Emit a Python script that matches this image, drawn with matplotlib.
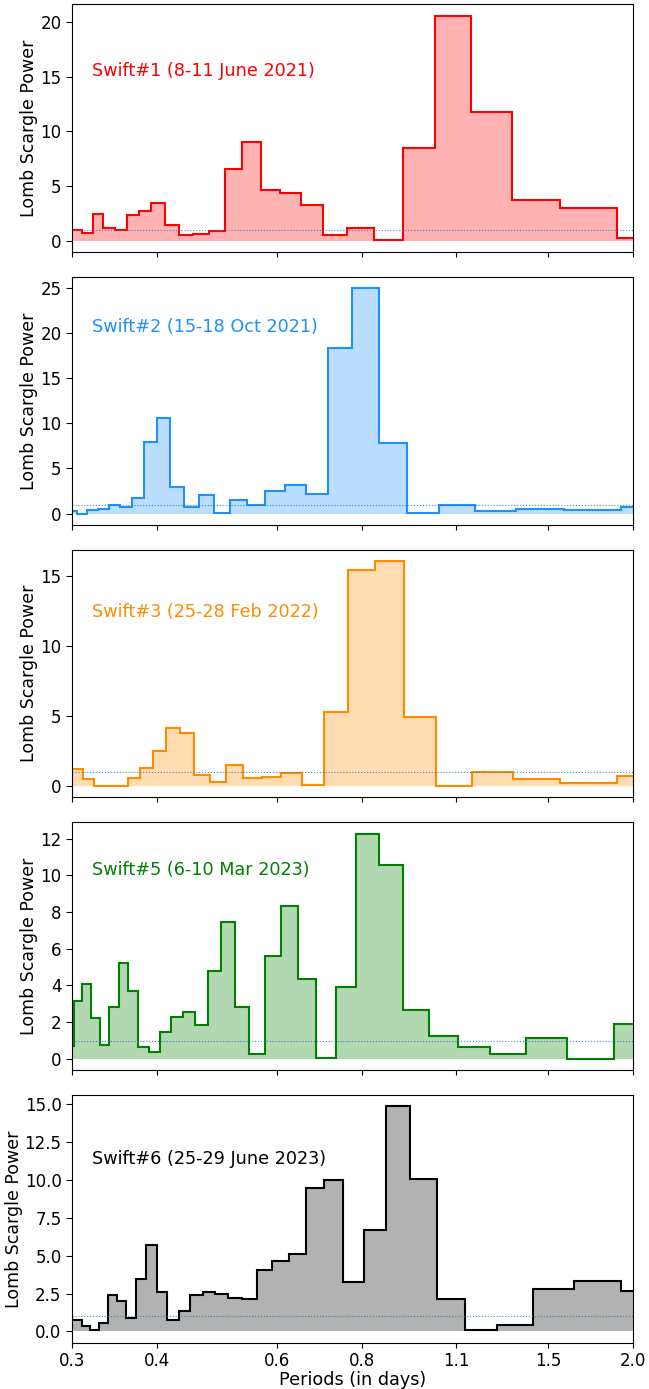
import numpy as np
import matplotlib
matplotlib.use("Agg")
import matplotlib.pyplot as plt
from matplotlib.ticker import FixedLocator, NullLocator, FormatStrFormatter

# Lomb-Scargle power.
# bin edges are in frequency (1/day), high -> low; plotted as period = 1/f
freq_edges_1 = [3.345, 3.221, 3.109, 2.997, 2.884, 2.772, 2.660, 2.548, 2.436,
                2.323, 2.211, 2.099, 1.987, 1.875, 1.762, 1.650, 1.538, 1.426,
                1.314, 1.202, 1.089, 0.977, 0.865, 0.753, 0.641, 0.528, 0.450]
power_1 = [0.98, 0.73, 2.44, 1.22, 1.04, 2.41, 2.74, 3.47, 1.43, 0.52, 0.61,
           0.91, 6.55, 9.04, 4.63, 4.38, 3.32, 0.58, 1.22, 0.06, 8.44, 20.58,
           11.78, 3.72, 3.01, 0.31]

freq_edges_2 = [3.400, 3.274, 3.164, 3.054, 2.944, 2.834, 2.724, 2.613, 2.503,
                2.393, 2.283, 2.173, 2.063, 1.953, 1.843, 1.733, 1.623, 1.513,
                1.402, 1.292, 1.182, 1.072, 0.962, 0.852, 0.742, 0.632, 0.521,
                0.450]
power_2 = [0.33, 0.00, 0.37, 0.55, 0.96, 0.78, 1.74, 7.95, 10.64, 2.92, 0.74,
           2.04, 0.11, 1.48, 0.96, 2.55, 3.18, 2.18, 18.40, 25.00, 7.87, 0.11,
           0.93, 0.30, 0.49, 0.44, 0.78]

freq_edges_3 = [3.400, 3.208, 3.096, 2.985, 2.873, 2.761, 2.650, 2.538, 2.426,
                2.314, 2.203, 2.091, 1.979, 1.868, 1.756, 1.644, 1.533, 1.421,
                1.309, 1.197, 1.086, 0.974, 0.862, 0.751, 0.639, 0.527, 0.450]
power_3 = [1.21, 0.50, 0.00, 0.02, 0.04, 0.57, 1.33, 2.51, 4.18, 3.80, 0.80,
           0.31, 1.52, 0.59, 0.64, 0.95, 0.12, 5.30, 15.43, 16.05, 4.94, 0.04,
           1.02, 0.52, 0.26, 0.71]

freq_edges_5 = [3.400, 3.311, 3.218, 3.126, 3.033, 2.941, 2.848, 2.756, 2.663,
                2.570, 2.478, 2.385, 2.293, 2.200, 2.108, 2.015, 1.922, 1.830,
                1.737, 1.645, 1.552, 1.459, 1.367, 1.274, 1.182, 1.089, 0.997,
                0.904, 0.811, 0.719, 0.626, 0.534, 0.450]
power_5 = [0.69, 3.14, 4.09, 2.20, 0.78, 2.82, 5.25, 3.69, 0.62, 0.36, 1.45,
           2.29, 2.56, 1.87, 4.80, 7.45, 2.85, 0.29, 5.60, 8.35, 4.33, 0.07,
           3.90, 12.29, 10.55, 2.65, 1.23, 0.62, 0.25, 1.12, 0.00, 1.89]

freq_edges_6 = [3.400, 3.226, 3.136, 3.046, 2.955, 2.865, 2.775, 2.685, 2.595,
                2.505, 2.414, 2.324, 2.234, 2.144, 2.054, 1.964, 1.873, 1.783,
                1.693, 1.603, 1.513, 1.422, 1.332, 1.242, 1.152, 1.062, 0.971,
                0.881, 0.791, 0.701, 0.611, 0.521, 0.450]
power_6 = [0.77, 0.33, 0.09, 0.53, 2.40, 2.00, 0.88, 3.44, 5.68, 2.60, 0.73,
           1.37, 2.40, 2.58, 2.45, 2.23, 2.12, 4.05, 4.63, 5.14, 9.45, 10.00,
           3.24, 6.72, 14.87, 10.07, 2.14, 0.09, 0.44, 2.82, 3.30, 2.64]

labels = ['Swift#1 (8-11 June 2021)', 'Swift#2 (15-18 Oct 2021)',
          'Swift#3 (25-28 Feb 2022)', 'Swift#5 (6-10 Mar 2023)',
          'Swift#6 (25-29 June 2023)']
period_ticks = [0.3, 0.4, 0.6, 0.8, 1.1, 1.5, 2.0]

edges_all = [freq_edges_1, freq_edges_2, freq_edges_3, freq_edges_5, freq_edges_6]
power_all = [power_1, power_2, power_3, power_5, power_6]
colors = ['red', 'dodgerblue', 'darkorange', 'green', 'black']
text_y = [0.731, 0.80, 0.749, 0.808, 0.741]

fig, axes = plt.subplots(5, 1, sharex=True, figsize=(6.49, 13.89), dpi=100)
fig.subplots_adjust(left=0.111, right=0.9753, top=0.9969, bottom=0.0333, hspace=0.1)

for ax, fe, pw, c, lab, ty in zip(axes, edges_all, power_all, colors, labels, text_y):
    per = 1.0 / np.array(fe)[::-1]
    p = np.array(pw)[::-1]
    ax.stairs(p, per, baseline=0, fill=True, color=c, alpha=0.3, lw=0)
    ax.stairs(p, per, baseline=None, color=c, lw=1.5)
    ax.axhline(1, color='tab:blue', ls=':', lw=0.8, alpha=0.85)
    top = p.max()
    ax.set_ylim(-0.05 * top, 1.05 * top)
    ax.text(0.036, ty, lab, color=c, fontsize=12.7, va='center', transform=ax.transAxes)
    ax.set_ylabel('Lomb Scargle Power', fontsize=12.5, labelpad=1.5)
    ax.tick_params(labelsize=12)
    ax.tick_params(axis='y', length=4)

ax = axes[-1]
ax.set_xscale('log')
ax.set_xlim(0.3, 2.0)
ax.xaxis.set_major_locator(FixedLocator(period_ticks))
ax.xaxis.set_minor_locator(NullLocator())
ax.xaxis.set_major_formatter(FormatStrFormatter('%.1f'))
ax.set_xlabel('Periods (in days)', fontsize=12.7, labelpad=0.5)

fig.savefig('out.png', dpi=100)
